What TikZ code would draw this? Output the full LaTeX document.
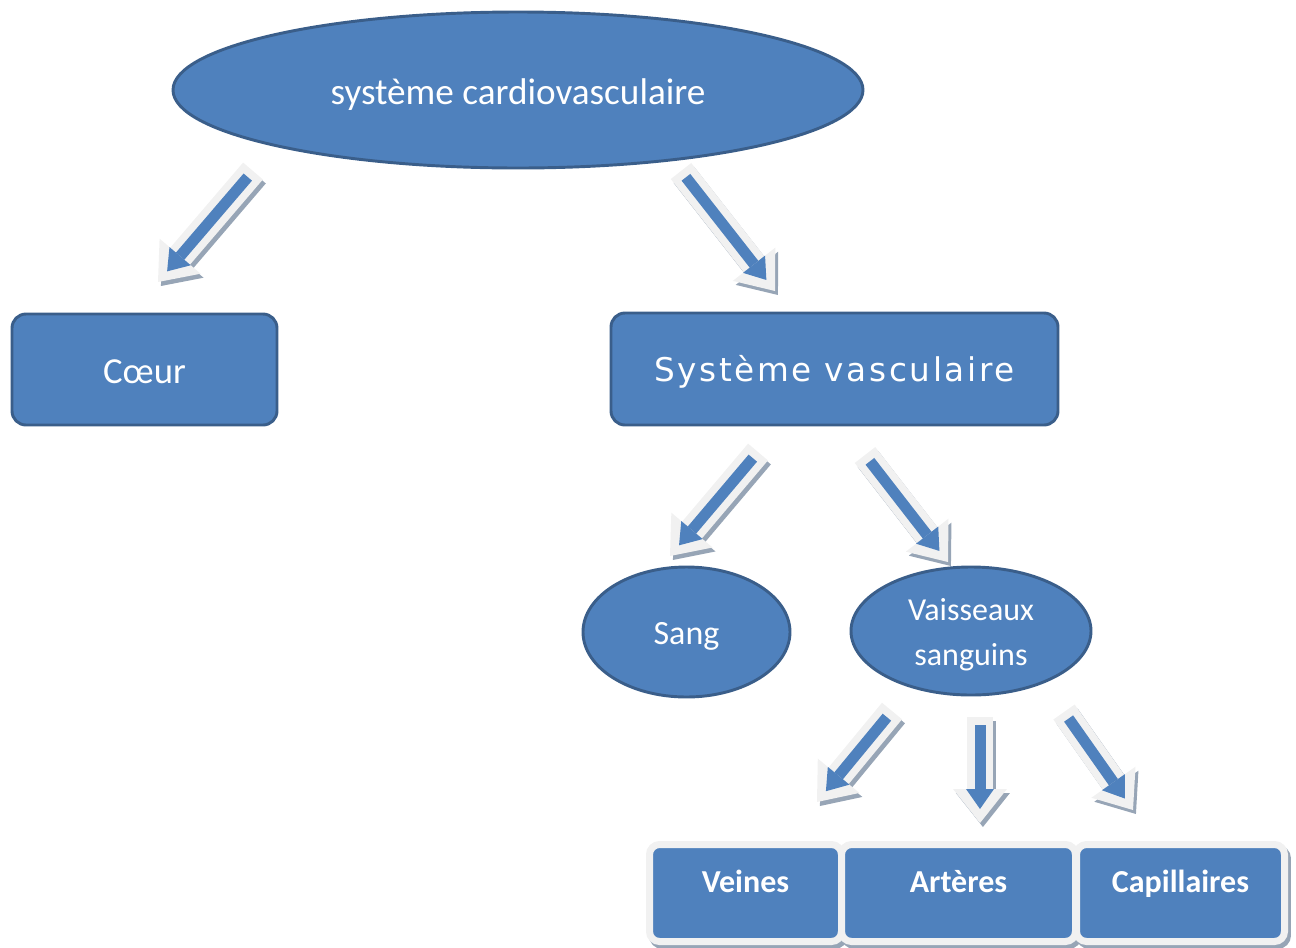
\documentclass[tikz,border=0pt]{standalone}
\usepackage{fontspec}
\setmainfont{Carlito}
\newfontfamily\widefont[LetterSpace=8]{DejaVu Sans}
\usetikzlibrary{arrows.meta,shapes.geometric,shadows}
\definecolor{ofblue}{HTML}{4F81BD}
\definecolor{ofborder}{HTML}{3A5E8A}
\definecolor{ofgray}{HTML}{F1F1F1}
\definecolor{ofshadow}{HTML}{97A5B6}
\newcommand{\movetext}[2]{\raisebox{#1}[\height][\depth]{#2}}
\tikzset{
  blueell/.style={ellipse, fill=ofblue, draw=ofborder, line width=2.2pt, inner sep=0pt, text=white},
  bluebox/.style={rectangle, rounded corners=10.5pt, fill=ofblue, draw=ofborder, line width=2.2pt, inner sep=0pt, text=white},
  leafbox/.style={rectangle, rounded corners=7.5pt, fill=ofblue, draw=ofgray, line width=5.25pt, inner sep=0pt, text=white,
     minimum height=72.75pt, text height=17pt, text depth=5pt, font=\bfseries\fontsize{24}{28}\selectfont,
     drop shadow={shadow xshift=2.2pt, shadow yshift=-3pt, fill=ofshadow, draw=ofshadow, line width=5.25pt, opacity=1}},
  arrshadow/.style={draw=ofshadow, line width=19.5pt, -{Triangle[width=40.5pt,length=25.5pt,line width=0pt]}},
  arrout/.style={draw=ofgray, line width=19.5pt, -{Triangle[width=40.5pt,length=25.5pt,line width=0pt]}},
  arrin/.style={draw=ofblue, line width=8.25pt, shorten <=6pt, shorten >=10.5pt, -{Triangle[width=21pt,length=15pt,line width=0pt]}},
}
\newcommand{\blockarrow}[2]{%
  \draw[arrshadow] ([xshift=2.2pt,yshift=-3pt]#1) -- ([xshift=2.2pt,yshift=-3pt]#2);
  \draw[arrout] (#1) -- (#2);
  \draw[arrin] (#1) -- (#2);
}
\begin{document}
\begin{tikzpicture}[x=0.75pt,y=-0.75pt]
\useasboundingbox (0,0) rectangle (1296,947);
% nodes
\node[blueell, minimum width=517.5pt, minimum height=117pt, font=\fontsize{27.9}{32}\selectfont] (sys) at (518,90) {\movetext{-3.75pt}{système cardiovasculaire}};
\node[bluebox, minimum width=198.75pt, minimum height=83.25pt, font=\fontsize{27.5}{32}\selectfont] (coeur) at (144.5,369.5) {\movetext{-1.5pt}{Cœur}};
\node[bluebox, minimum width=335.25pt, minimum height=84pt, font=\widefont\fontsize{24.5}{28}\selectfont] (vasc) at (834.5,369) {\movetext{-2pt}{Système vasculaire}};
\node[blueell, minimum width=155.25pt, minimum height=97.5pt, font=\fontsize{25.5}{30}\selectfont] (sang) at (686.5,632) {\movetext{-3pt}{Sang}};
\node[blueell, minimum width=180pt, minimum height=96pt, font=\fontsize{24}{33.75}\selectfont] (vaiss) at (971,631) {\movetext{-2.25pt}{\begin{tabular}{@{}c@{}}Vaisseaux\\[0pt]sanguins\end{tabular}}};
\node[leafbox, minimum width=144pt] (veines) at (745.5,893) {\movetext{6.5pt}{Veines}};
\node[leafbox, minimum width=175.5pt] (arteres) at (958.5,893) {\movetext{6.5pt}{Artères}};
\node[leafbox, minimum width=156pt] (capil) at (1180.5,893) {\movetext{6.5pt}{Capillaires}};
% arrow end points
\coordinate (a1s) at (253,171); \coordinate (a1e) at (158,282);
\coordinate (a2s) at (681,171); \coordinate (a2e) at (775,291);
\coordinate (a3s) at (758,452); \coordinate (a3e) at (670,556);
\coordinate (a4s) at (865,455); \coordinate (a4e) at (948,562);
\coordinate (a5s) at (892,711); \coordinate (a5e) at (817,802);
\coordinate (a6s) at (980,717); \coordinate (a6e) at (980,823);
\coordinate (a7s) at (1064,712); \coordinate (a7e) at (1133,810);
\blockarrow{a1s}{a1e}
\blockarrow{a2s}{a2e}
\blockarrow{a3s}{a3e}
\blockarrow{a4s}{a4e}
\blockarrow{a5s}{a5e}
\blockarrow{a6s}{a6e}
\blockarrow{a7s}{a7e}
\end{tikzpicture}
\end{document}
